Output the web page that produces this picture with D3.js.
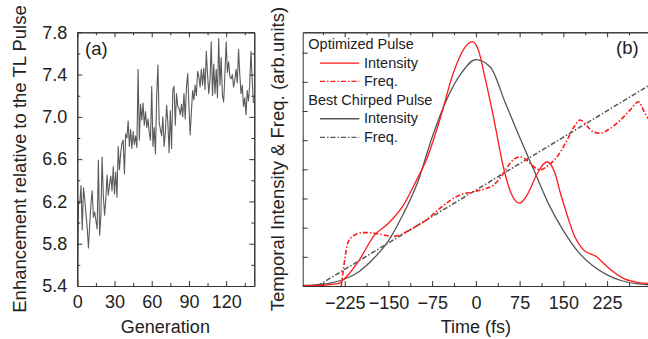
<!DOCTYPE html>
<html><head><meta charset="utf-8">
<script src="https://cdn.jsdelivr.net/npm/d3@7/dist/d3.min.js"></script>
<style>
body{margin:0;background:#fff}
svg{display:block}
text{font-family:"Liberation Sans",Arial,sans-serif;fill:#222}
</style>
</head><body><svg id="c" width="648" height="339"></svg>
<script>
// ---------- Panel (a) data ----------
const enhancement = [5.47,6.20,6.18,6.35,5.93,6.33,6.22,6.08,5.95,5.76,5.98,6.18,6.30,6.05,6.10,6.02,5.94,6.59,5.88,6.06,
6.62,6.25,6.07,6.22,6.45,6.26,6.36,6.44,6.30,6.53,6.27,6.48,6.24,6.72,6.50,6.66,6.75,6.78,6.46,6.84,
6.80,6.96,6.72,6.88,6.70,6.86,6.74,6.82,6.71,7.45,6.78,7.12,6.97,7.13,6.92,7.05,6.90,6.98,6.85,6.78,
7.29,6.72,6.90,6.65,7.20,7.49,6.95,6.88,6.82,7.00,6.72,6.85,7.11,6.95,6.66,7.06,6.70,7.25,7.29,6.92,
7.22,7.10,7.08,7.02,7.12,7.00,7.22,6.98,7.28,7.41,7.10,6.83,7.05,7.25,7.16,7.30,7.20,7.43,7.38,7.28,
7.45,7.30,7.46,7.26,7.62,7.40,7.22,7.35,7.71,7.20,7.50,7.22,7.45,7.18,7.74,7.30,7.56,7.20,7.14,7.40,
7.71,7.42,7.52,7.38,7.36,7.40,7.28,7.35,7.45,7.32,7.64,7.40,7.22,7.30,7.10,7.18,7.02,7.25,7.15,7.30,
7.62,7.35,7.13];
const generations = enhancement.map((_, i) => i);
const aXTicks = [0, 30, 60, 90, 120];
const aXMinor = [15, 45, 75, 105, 135];
const aYTicks = [5.4, 5.8, 6.2, 6.6, 7.0, 7.4, 7.8];
const aYMinor = [5.6, 6.0, 6.4, 6.8, 7.2, 7.6];

// ---------- Panel (b) data ----------
const optTime      = [-297,-275,-250,-235,-225,-200,-175,-150,-125,-100,-85,-62,-39,-20,-6,5,12.6,30,47,60,75,90,105,122,135,145,157,167,185,207,225,253,282,297];
const optIntensity = [0.01,0.02,0.05,0.09,0.26,0.89,1.72,2.15,2.75,3.70,4.32,5.69,7.29,8.15,8.38,8.05,7.41,5.81,4.09,3.20,2.84,3.20,3.85,4.26,3.90,3.18,2.40,1.81,1.23,1.00,0.66,0.26,0.11,0.09];
const optFreqTime  = [-231,-228,-225,-220,-213,-205,-194,-182,-171,-158,-142,-125,-119,-100,-85,-62,-27.5,-4.6,15,30,45,53,65,76,88,99,110,125,140,155,168,179,190,200,213,230,248,265,279,288,297];
const optFreq      = [0.0,0.45,0.89,1.46,1.68,1.78,1.83,1.83,1.80,1.75,1.70,1.80,1.86,2.08,2.26,2.66,3.12,3.23,3.33,3.46,3.80,4.05,4.35,4.43,4.30,4.09,3.98,4.15,4.45,4.95,5.45,5.69,5.50,5.30,5.24,5.40,5.69,6.05,6.32,6.00,5.69];
const chirpTime      = [-297,-275,-250,-225,-200,-175,-150,-125,-100,-75,-50,-25,0,25,50,75,100,125,150,175,200,225,250,275,297];
const chirpIntensity = [0.02,0.04,0.10,0.24,0.50,0.95,1.55,2.45,3.55,5.10,6.40,7.30,7.76,7.50,6.30,5.10,3.95,2.80,1.90,1.18,0.70,0.38,0.18,0.08,0.04];
const chirpFreqTime  = [-272, 297];
const chirpFreq      = [0.0, 6.88];
const bXTicks = [-225, -150, -75, 0, 75, 150, 225];
const bXMinor = [-262.5, -187.5, -112.5, -37.5, 37.5, 112.5, 187.5, 262.5];
const bYTicks = [1, 2, 3, 4, 5, 6, 7, 8];

const legendItems = [
  {label: "Optimized Pulse", header: true},
  {label: "Intensity", color: "#ff1a1a", dash: null},
  {label: "Freq.", color: "#ff1a1a", dash: "5,2,1.5,2"},
  {label: "Best Chirped Pulse", header: true},
  {label: "Intensity", color: "#555", dash: null},
  {label: "Freq.", color: "#555", dash: "5,2,1.5,2"}
];

const svg = d3.select("#c");
const AX = "#333";

function frame(g, x, y, o) {
  // bottom
  const b = g.append("g").attr("transform", `translate(0,${y.range()[0]})`);
  b.call(d3.axisBottom(x).tickValues(o.xt).tickSizeInner(-5).tickSizeOuter(0).tickPadding(o.xpad).tickFormat(o.xf));
  b.append("g").call(d3.axisBottom(x).tickValues(o.xm).tickSizeInner(-3).tickSizeOuter(0).tickFormat(""));
  // top
  const t = g.append("g").attr("transform", `translate(0,${y.range()[1]})`);
  t.call(d3.axisTop(x).tickValues(o.xt).tickSizeInner(-5).tickSizeOuter(0).tickFormat(""));
  t.append("g").call(d3.axisTop(x).tickValues(o.xm).tickSizeInner(-3).tickSizeOuter(0).tickFormat(""));
  // left
  const l = g.append("g").attr("transform", `translate(${x.range()[0]},0)`);
  l.call(d3.axisLeft(y).tickValues(o.yt).tickSizeInner(-5).tickSizeOuter(0).tickPadding(o.ypad).tickFormat(o.yf));
  if (o.ym) l.append("g").call(d3.axisLeft(y).tickValues(o.ym).tickSizeInner(-3).tickSizeOuter(0).tickFormat(""));
  if (o.right) {
    const r = g.append("g").attr("transform", `translate(${x.range()[1]},0)`);
    r.call(d3.axisRight(y).tickValues(o.yt).tickSizeInner(-5).tickSizeOuter(0).tickFormat(""));
    if (o.ym) r.append("g").call(d3.axisRight(y).tickValues(o.ym).tickSizeInner(-3).tickSizeOuter(0).tickFormat(""));
  }
  g.selectAll(".domain").attr("stroke", AX).attr("stroke-width", 1);
  g.selectAll(".tick line").attr("stroke", AX).attr("stroke-width", 1);
  g.selectAll(".tick text").style("font-size", "18px").style("font-family", '"Liberation Sans",Arial,sans-serif').attr("fill", "#222");
}

// ---------- Panel (a) ----------
const xa = d3.scaleLinear().domain([0, 142.7]).range([77.3, 254.3]);
const ya = d3.scaleLinear().domain([5.4, 7.8]).range([286, 32.3]);
const ga = svg.append("g");
svg.append("clipPath").attr("id", "ca").append("rect")
  .attr("x", 77.3).attr("y", 32.3).attr("width", 177).attr("height", 253.7);
ga.append("path")
  .attr("clip-path", "url(#ca)")
  .attr("d", d3.line().x((d, i) => xa(generations[i])).y(d => ya(d))(enhancement))
  .attr("fill", "none").attr("stroke", "#5a5a5a").attr("stroke-width", 1.1).attr("stroke-linejoin", "round");
frame(ga, xa, ya, {xt: aXTicks, xm: aXMinor, yt: aYTicks, ym: aYMinor, xpad: 9, ypad: 10,
  xf: d3.format("d"), yf: d3.format(".1f"), right: true});
ga.append("text").attr("x", 85).attr("y", 55).style("font-size", "18.5px").text("(a)");
ga.append("text").attr("x", xa(71)).attr("y", 333).attr("text-anchor", "middle").style("font-size", "18px").text("Generation");
ga.append("text").attr("transform", "translate(26,159) rotate(-90)").attr("text-anchor", "middle")
  .style("font-size", "18.5px").text("Enhancement relative to the TL Pulse");

// ---------- Panel (b) ----------
const xb = d3.scaleLinear().domain([-297, 297]).range([302.7, 649.1]);
const yb = d3.scaleLinear().domain([0, 8.7]).range([286, 32.3]);
const gb = svg.append("g");
svg.append("clipPath").attr("id", "cb").append("rect")
  .attr("x", 302.7).attr("y", 32.3).attr("width", 350).attr("height", 253.7);
const line = (ts, vs, curve) => d3.line().x((d, i) => xb(ts[i])).y(d => yb(d)).curve(curve)(vs);
const pb = gb.append("g").attr("clip-path", "url(#cb)");
pb.append("path").attr("d", line(chirpIntensity.map((_, i) => chirpTime[i]), chirpIntensity, d3.curveMonotoneX))
  .attr("fill", "none").attr("stroke", "#555").attr("stroke-width", 1.3);
pb.append("path").attr("d", line(chirpFreqTime, chirpFreq, d3.curveLinear))
  .attr("fill", "none").attr("stroke", "#555").attr("stroke-width", 1.5).attr("stroke-dasharray", "5,2,1.5,2");
pb.append("path").attr("d", line(optTime, optIntensity, d3.curveMonotoneX))
  .attr("fill", "none").attr("stroke", "#ff1a1a").attr("stroke-width", 1.3);
pb.append("path").attr("d", line(optFreqTime, optFreq, d3.curveMonotoneX))
  .attr("fill", "none").attr("stroke", "#ff1a1a").attr("stroke-width", 1.6).attr("stroke-dasharray", "5,2,1.5,2");
frame(gb, xb, yb, {xt: bXTicks, xm: bXMinor, yt: bYTicks, ym: null, xpad: 10, ypad: 8,
  xf: d3.format("d"), yf: () => "", right: false});
gb.append("text").attr("x", 616).attr("y", 54).style("font-size", "18.5px").text("(b)");
gb.append("text").attr("x", xb(0)).attr("y", 333).attr("text-anchor", "middle").style("font-size", "18px").text("Time (fs)");
gb.append("text").attr("transform", "translate(284,159) rotate(-90)").attr("text-anchor", "middle")
  .style("font-size", "18.5px").text("Temporal Intensity & Freq. (arb.units)");

// legend
const lg = gb.append("g");
const rowY = [49, 67.7, 86, 105, 123.3, 142];
legendItems.forEach((it, i) => {
  if (it.header) {
    lg.append("text").attr("x", 308.3).attr("y", rowY[i]).style("font-size", "14.5px").text(it.label);
  } else {
    lg.append("line").attr("x1", 320).attr("x2", 359.3).attr("y1", rowY[i] - 4.6).attr("y2", rowY[i] - 4.6)
      .attr("stroke", it.color).attr("stroke-width", 1.4).attr("stroke-dasharray", it.dash);
    lg.append("text").attr("x", 364).attr("y", rowY[i]).style("font-size", "14.5px").text(it.label);
  }
});
</script>
</body></html>
